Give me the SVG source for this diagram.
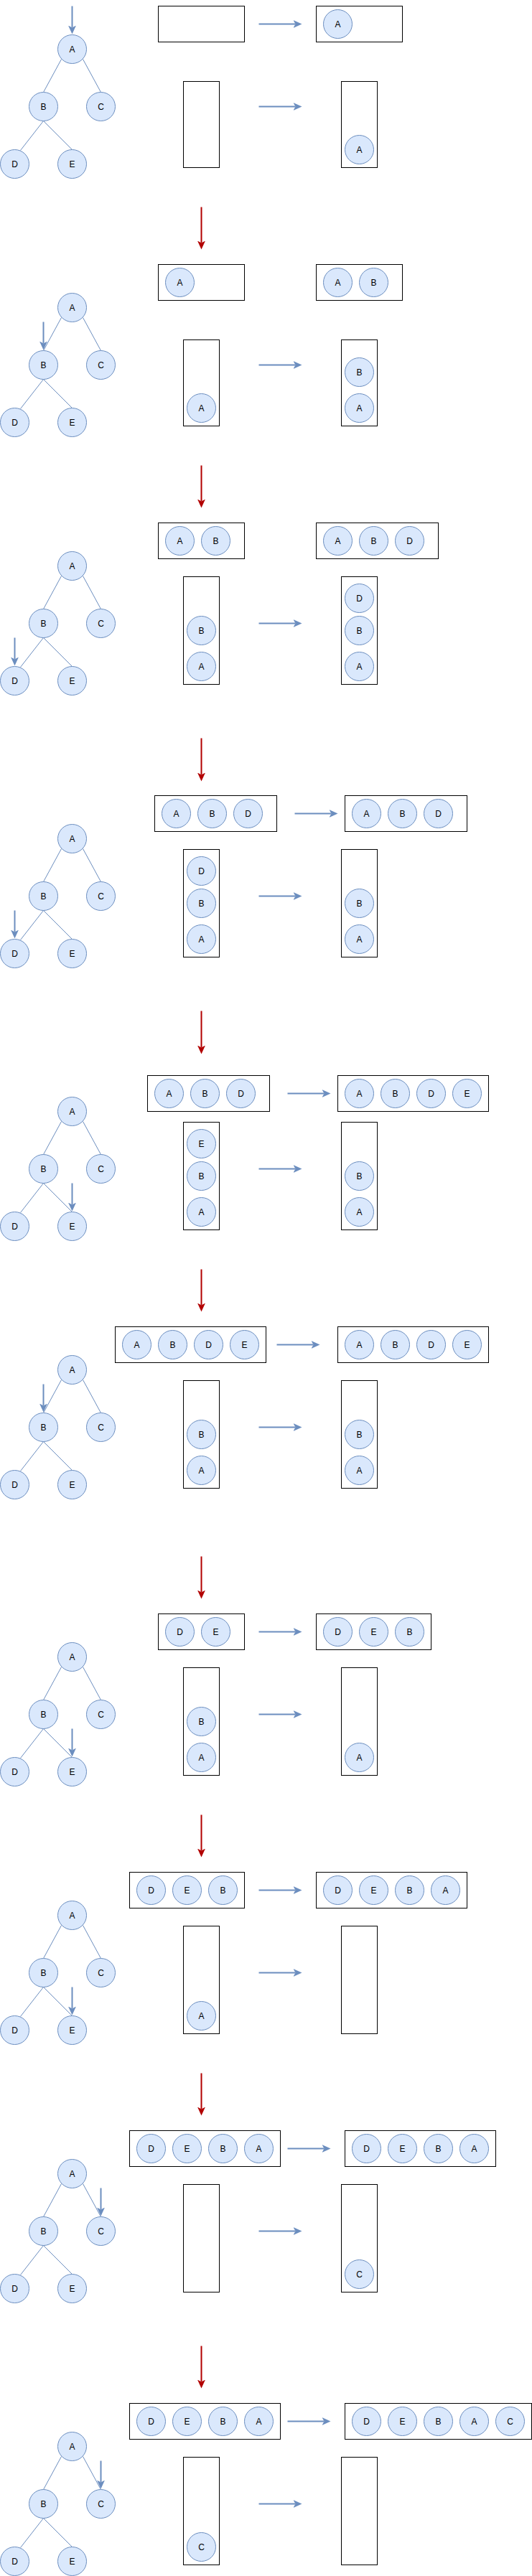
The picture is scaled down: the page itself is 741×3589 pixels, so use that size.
<svg xmlns="http://www.w3.org/2000/svg" width="741" height="3589" viewBox="0 0 741 3589">
<style>
.c{fill:#dae8fc;stroke:#6c8ebf;stroke-width:1}
.t{font-family:"Liberation Sans",Arial,Helvetica,sans-serif;font-size:12px;text-anchor:middle;fill:#000}
.box{fill:#fff;stroke:#000;stroke-width:1}
.e{fill:none;stroke:#6c8ebf;stroke-width:1}
.ab{fill:none;stroke:#6c8ebf;stroke-width:2;marker-end:url(#mb)}
.ar{fill:none;stroke:#b20000;stroke-width:2;marker-end:url(#mr)}
</style>
<defs>
<marker id="mb" markerUnits="userSpaceOnUse" viewBox="0 0 12 11" markerWidth="12" markerHeight="11" refX="3" refY="5.5" orient="auto"><path d="M0,0 L12,5.5 L0,11 L3,5.5 Z" fill="#6c8ebf"/></marker>
<marker id="mr" markerUnits="userSpaceOnUse" viewBox="0 0 12 11" markerWidth="12" markerHeight="11" refX="3" refY="5.5" orient="auto"><path d="M0,0 L12,5.5 L0,11 L3,5.5 Z" fill="#b20000"/></marker>
</defs>
<rect width="741" height="3589" fill="#fff"/>
<g transform="translate(0.5,0.5)">
<g id="connectors">
<!-- S1 -->
<path class="e" d="M85,82 L60,128 M115,82 L140,128 M60,168 L28,209 M60,168 L100,208"/>
<line class="ab" x1="100" y1="8" x2="100" y2="38"/>
<line class="ab" x1="360" y1="33" x2="411" y2="33"/>
<line class="ab" x1="360" y1="148" x2="411" y2="148"/>
<line class="ar" x1="280" y1="288" x2="280" y2="338"/>
<!-- S2 -->
<path class="e" d="M85,442 L60,488 M115,442 L140,488 M60,528 L28,569 M60,528 L100,568"/>
<line class="ab" x1="60" y1="448" x2="60" y2="478"/>
<line class="ab" x1="360" y1="508" x2="411" y2="508"/>
<line class="ar" x1="280" y1="648" x2="280" y2="698"/>
<!-- S3 -->
<path class="e" d="M85,802 L60,848 M115,802 L140,848 M60,888 L28,929 M60,888 L100,928"/>
<line class="ab" x1="20" y1="888" x2="20" y2="918"/>
<line class="ab" x1="360" y1="868" x2="411" y2="868"/>
<line class="ar" x1="280" y1="1028" x2="280" y2="1079"/>
<!-- S4 -->
<path class="e" d="M85,1182 L60,1228 M115,1182 L140,1228 M60,1268 L28,1309 M60,1268 L100,1308"/>
<line class="ab" x1="20" y1="1268" x2="20" y2="1298"/>
<line class="ab" x1="410" y1="1133" x2="461" y2="1133"/>
<line class="ab" x1="360" y1="1248" x2="411" y2="1248"/>
<line class="ar" x1="280" y1="1408" x2="280" y2="1459"/>
<!-- S5 -->
<path class="e" d="M85,1562 L60,1608 M115,1562 L140,1608 M60,1648 L28,1689 M60,1648 L100,1688"/>
<line class="ab" x1="100" y1="1648" x2="100" y2="1678"/>
<line class="ab" x1="400" y1="1523" x2="451" y2="1523"/>
<line class="ab" x1="360" y1="1628" x2="411" y2="1628"/>
<line class="ar" x1="280" y1="1768" x2="280" y2="1818"/>
<!-- S6 -->
<path class="e" d="M85,1922 L60,1968 M115,1922 L140,1968 M60,2008 L28,2049 M60,2008 L100,2048"/>
<line class="ab" x1="60" y1="1928" x2="60" y2="1958"/>
<line class="ab" x1="385" y1="1873" x2="436" y2="1873"/>
<line class="ab" x1="360" y1="1988" x2="411" y2="1988"/>
<line class="ar" x1="280" y1="2168" x2="280" y2="2218"/>
<!-- S7 -->
<path class="e" d="M85,2322 L60,2368 M115,2322 L140,2368 M60,2408 L28,2449 M60,2408 L100,2448"/>
<line class="ab" x1="100" y1="2408" x2="100" y2="2438"/>
<line class="ab" x1="360" y1="2273" x2="411" y2="2273"/>
<line class="ab" x1="360" y1="2388" x2="411" y2="2388"/>
<line class="ar" x1="280" y1="2528" x2="280" y2="2578"/>
<!-- S8 -->
<path class="e" d="M85,2682 L60,2728 M115,2682 L140,2728 M60,2768 L28,2809 M60,2768 L100,2808"/>
<line class="ab" x1="100" y1="2768" x2="100" y2="2798"/>
<line class="ab" x1="360" y1="2633" x2="411" y2="2633"/>
<line class="ab" x1="360" y1="2748" x2="411" y2="2748"/>
<line class="ar" x1="280" y1="2888" x2="280" y2="2938"/>
<!-- S9 -->
<path class="e" d="M85,3042 L60,3088 M115,3042 L140,3088 M60,3128 L28,3169 M60,3128 L100,3168"/>
<line class="ab" x1="140" y1="3048" x2="140" y2="3078"/>
<line class="ab" x1="400" y1="2993" x2="451" y2="2993"/>
<line class="ab" x1="360" y1="3108" x2="411" y2="3108"/>
<line class="ar" x1="280" y1="3268" x2="280" y2="3318"/>
<!-- S10 -->
<path class="e" d="M85,3422 L60,3468 M115,3422 L140,3468 M60,3508 L28,3549 M60,3508 L100,3548"/>
<line class="ab" x1="140" y1="3428" x2="140" y2="3458"/>
<line class="ab" x1="400" y1="3373" x2="451" y2="3373"/>
<line class="ab" x1="360" y1="3488" x2="411" y2="3488"/>
</g>

<!-- ===== Section 1 ===== -->
<g id="s1-tree-A"><circle class="c" cx="100" cy="68" r="20"/><text class="t" x="100" y="72">A</text></g>
<g id="s1-tree-B"><circle class="c" cx="60" cy="148" r="20"/><text class="t" x="60" y="152">B</text></g>
<g id="s1-tree-C"><circle class="c" cx="140" cy="148" r="20"/><text class="t" x="140" y="152">C</text></g>
<g id="s1-tree-D"><circle class="c" cx="20" cy="228" r="20"/><text class="t" x="20" y="232">D</text></g>
<g id="s1-tree-E"><circle class="c" cx="100" cy="228" r="20"/><text class="t" x="100" y="232">E</text></g>
<g id="s1-queue-in"><rect class="box" x="220" y="8" width="120" height="50"/></g>
<g id="s1-queue-out"><rect class="box" x="440" y="8" width="120" height="50"/>
<circle class="c" cx="470" cy="33" r="20"/><text class="t" x="470" y="37">A</text></g>
<g id="s1-stack-in"><rect class="box" x="255" y="113" width="50" height="120"/></g>
<g id="s1-stack-out"><rect class="box" x="475" y="113" width="50" height="120"/>
<circle class="c" cx="500" cy="208" r="20"/><text class="t" x="500" y="212">A</text></g>

<!-- ===== Section 2 ===== -->
<g id="s2-tree-A"><circle class="c" cx="100" cy="428" r="20"/><text class="t" x="100" y="432">A</text></g>
<g id="s2-tree-B"><circle class="c" cx="60" cy="508" r="20"/><text class="t" x="60" y="512">B</text></g>
<g id="s2-tree-C"><circle class="c" cx="140" cy="508" r="20"/><text class="t" x="140" y="512">C</text></g>
<g id="s2-tree-D"><circle class="c" cx="20" cy="588" r="20"/><text class="t" x="20" y="592">D</text></g>
<g id="s2-tree-E"><circle class="c" cx="100" cy="588" r="20"/><text class="t" x="100" y="592">E</text></g>
<g id="s2-queue-in"><rect class="box" x="220" y="368" width="120" height="50"/>
<circle class="c" cx="250" cy="393" r="20"/><text class="t" x="250" y="397">A</text></g>
<g id="s2-queue-out"><rect class="box" x="440" y="368" width="120" height="50"/>
<circle class="c" cx="470" cy="393" r="20"/><text class="t" x="470" y="397">A</text>
<circle class="c" cx="520" cy="393" r="20"/><text class="t" x="520" y="397">B</text></g>
<g id="s2-stack-in"><rect class="box" x="255" y="473" width="50" height="120"/>
<circle class="c" cx="280" cy="568" r="20"/><text class="t" x="280" y="572">A</text></g>
<g id="s2-stack-out"><rect class="box" x="475" y="473" width="50" height="120"/>
<circle class="c" cx="500" cy="518" r="20"/><text class="t" x="500" y="522">B</text>
<circle class="c" cx="500" cy="568" r="20"/><text class="t" x="500" y="572">A</text></g>

<!-- ===== Section 3 ===== -->
<g id="s3-tree-A"><circle class="c" cx="100" cy="788" r="20"/><text class="t" x="100" y="792">A</text></g>
<g id="s3-tree-B"><circle class="c" cx="60" cy="868" r="20"/><text class="t" x="60" y="872">B</text></g>
<g id="s3-tree-C"><circle class="c" cx="140" cy="868" r="20"/><text class="t" x="140" y="872">C</text></g>
<g id="s3-tree-D"><circle class="c" cx="20" cy="948" r="20"/><text class="t" x="20" y="952">D</text></g>
<g id="s3-tree-E"><circle class="c" cx="100" cy="948" r="20"/><text class="t" x="100" y="952">E</text></g>
<g id="s3-queue-in"><rect class="box" x="220" y="728" width="120" height="50"/>
<circle class="c" cx="250" cy="753" r="20"/><text class="t" x="250" y="757">A</text>
<circle class="c" cx="300" cy="753" r="20"/><text class="t" x="300" y="757">B</text></g>
<g id="s3-queue-out"><rect class="box" x="440" y="728" width="170" height="50"/>
<circle class="c" cx="470" cy="753" r="20"/><text class="t" x="470" y="757">A</text>
<circle class="c" cx="520" cy="753" r="20"/><text class="t" x="520" y="757">B</text>
<circle class="c" cx="570" cy="753" r="20"/><text class="t" x="570" y="757">D</text></g>
<g id="s3-stack-in"><rect class="box" x="255" y="803" width="50" height="150"/>
<circle class="c" cx="280" cy="878" r="20"/><text class="t" x="280" y="882">B</text>
<circle class="c" cx="280" cy="928" r="20"/><text class="t" x="280" y="932">A</text></g>
<g id="s3-stack-out"><rect class="box" x="475" y="803" width="50" height="150"/>
<circle class="c" cx="500" cy="833" r="20"/><text class="t" x="500" y="837">D</text>
<circle class="c" cx="500" cy="878" r="20"/><text class="t" x="500" y="882">B</text>
<circle class="c" cx="500" cy="928" r="20"/><text class="t" x="500" y="932">A</text></g>

<!-- ===== Section 4 ===== -->
<g id="s4-tree-A"><circle class="c" cx="100" cy="1168" r="20"/><text class="t" x="100" y="1172">A</text></g>
<g id="s4-tree-B"><circle class="c" cx="60" cy="1248" r="20"/><text class="t" x="60" y="1252">B</text></g>
<g id="s4-tree-C"><circle class="c" cx="140" cy="1248" r="20"/><text class="t" x="140" y="1252">C</text></g>
<g id="s4-tree-D"><circle class="c" cx="20" cy="1328" r="20"/><text class="t" x="20" y="1332">D</text></g>
<g id="s4-tree-E"><circle class="c" cx="100" cy="1328" r="20"/><text class="t" x="100" y="1332">E</text></g>
<g id="s4-queue-in"><rect class="box" x="215" y="1108" width="170" height="50"/>
<circle class="c" cx="245" cy="1133" r="20"/><text class="t" x="245" y="1137">A</text>
<circle class="c" cx="295" cy="1133" r="20"/><text class="t" x="295" y="1137">B</text>
<circle class="c" cx="345" cy="1133" r="20"/><text class="t" x="345" y="1137">D</text></g>
<g id="s4-queue-out"><rect class="box" x="480" y="1108" width="170" height="50"/>
<circle class="c" cx="510" cy="1133" r="20"/><text class="t" x="510" y="1137">A</text>
<circle class="c" cx="560" cy="1133" r="20"/><text class="t" x="560" y="1137">B</text>
<circle class="c" cx="610" cy="1133" r="20"/><text class="t" x="610" y="1137">D</text></g>
<g id="s4-stack-in"><rect class="box" x="255" y="1183" width="50" height="150"/>
<circle class="c" cx="280" cy="1213" r="20"/><text class="t" x="280" y="1217">D</text>
<circle class="c" cx="280" cy="1258" r="20"/><text class="t" x="280" y="1262">B</text>
<circle class="c" cx="280" cy="1308" r="20"/><text class="t" x="280" y="1312">A</text></g>
<g id="s4-stack-out"><rect class="box" x="475" y="1183" width="50" height="150"/>
<circle class="c" cx="500" cy="1258" r="20"/><text class="t" x="500" y="1262">B</text>
<circle class="c" cx="500" cy="1308" r="20"/><text class="t" x="500" y="1312">A</text></g>

<!-- ===== Section 5 ===== -->
<g id="s5-tree-A"><circle class="c" cx="100" cy="1548" r="20"/><text class="t" x="100" y="1552">A</text></g>
<g id="s5-tree-B"><circle class="c" cx="60" cy="1628" r="20"/><text class="t" x="60" y="1632">B</text></g>
<g id="s5-tree-C"><circle class="c" cx="140" cy="1628" r="20"/><text class="t" x="140" y="1632">C</text></g>
<g id="s5-tree-D"><circle class="c" cx="20" cy="1708" r="20"/><text class="t" x="20" y="1712">D</text></g>
<g id="s5-tree-E"><circle class="c" cx="100" cy="1708" r="20"/><text class="t" x="100" y="1712">E</text></g>
<g id="s5-queue-in"><rect class="box" x="205" y="1498" width="170" height="50"/>
<circle class="c" cx="235" cy="1523" r="20"/><text class="t" x="235" y="1527">A</text>
<circle class="c" cx="285" cy="1523" r="20"/><text class="t" x="285" y="1527">B</text>
<circle class="c" cx="335" cy="1523" r="20"/><text class="t" x="335" y="1527">D</text></g>
<g id="s5-queue-out"><rect class="box" x="470" y="1498" width="210" height="50"/>
<circle class="c" cx="500" cy="1523" r="20"/><text class="t" x="500" y="1527">A</text>
<circle class="c" cx="550" cy="1523" r="20"/><text class="t" x="550" y="1527">B</text>
<circle class="c" cx="600" cy="1523" r="20"/><text class="t" x="600" y="1527">D</text>
<circle class="c" cx="650" cy="1523" r="20"/><text class="t" x="650" y="1527">E</text></g>
<g id="s5-stack-in"><rect class="box" x="255" y="1563" width="50" height="150"/>
<circle class="c" cx="280" cy="1593" r="20"/><text class="t" x="280" y="1597">E</text>
<circle class="c" cx="280" cy="1638" r="20"/><text class="t" x="280" y="1642">B</text>
<circle class="c" cx="280" cy="1688" r="20"/><text class="t" x="280" y="1692">A</text></g>
<g id="s5-stack-out"><rect class="box" x="475" y="1563" width="50" height="150"/>
<circle class="c" cx="500" cy="1638" r="20"/><text class="t" x="500" y="1642">B</text>
<circle class="c" cx="500" cy="1688" r="20"/><text class="t" x="500" y="1692">A</text></g>

<!-- ===== Section 6 ===== -->
<g id="s6-tree-A"><circle class="c" cx="100" cy="1908" r="20"/><text class="t" x="100" y="1912">A</text></g>
<g id="s6-tree-B"><circle class="c" cx="60" cy="1988" r="20"/><text class="t" x="60" y="1992">B</text></g>
<g id="s6-tree-C"><circle class="c" cx="140" cy="1988" r="20"/><text class="t" x="140" y="1992">C</text></g>
<g id="s6-tree-D"><circle class="c" cx="20" cy="2068" r="20"/><text class="t" x="20" y="2072">D</text></g>
<g id="s6-tree-E"><circle class="c" cx="100" cy="2068" r="20"/><text class="t" x="100" y="2072">E</text></g>
<g id="s6-queue-in"><rect class="box" x="160" y="1848" width="210" height="50"/>
<circle class="c" cx="190" cy="1873" r="20"/><text class="t" x="190" y="1877">A</text>
<circle class="c" cx="240" cy="1873" r="20"/><text class="t" x="240" y="1877">B</text>
<circle class="c" cx="290" cy="1873" r="20"/><text class="t" x="290" y="1877">D</text>
<circle class="c" cx="340" cy="1873" r="20"/><text class="t" x="340" y="1877">E</text></g>
<g id="s6-queue-out"><rect class="box" x="470" y="1848" width="210" height="50"/>
<circle class="c" cx="500" cy="1873" r="20"/><text class="t" x="500" y="1877">A</text>
<circle class="c" cx="550" cy="1873" r="20"/><text class="t" x="550" y="1877">B</text>
<circle class="c" cx="600" cy="1873" r="20"/><text class="t" x="600" y="1877">D</text>
<circle class="c" cx="650" cy="1873" r="20"/><text class="t" x="650" y="1877">E</text></g>
<g id="s6-stack-in"><rect class="box" x="255" y="1923" width="50" height="150"/>
<circle class="c" cx="280" cy="1998" r="20"/><text class="t" x="280" y="2002">B</text>
<circle class="c" cx="280" cy="2048" r="20"/><text class="t" x="280" y="2052">A</text></g>
<g id="s6-stack-out"><rect class="box" x="475" y="1923" width="50" height="150"/>
<circle class="c" cx="500" cy="1998" r="20"/><text class="t" x="500" y="2002">B</text>
<circle class="c" cx="500" cy="2048" r="20"/><text class="t" x="500" y="2052">A</text></g>

<!-- ===== Section 7 ===== -->
<g id="s7-tree-A"><circle class="c" cx="100" cy="2308" r="20"/><text class="t" x="100" y="2312">A</text></g>
<g id="s7-tree-B"><circle class="c" cx="60" cy="2388" r="20"/><text class="t" x="60" y="2392">B</text></g>
<g id="s7-tree-C"><circle class="c" cx="140" cy="2388" r="20"/><text class="t" x="140" y="2392">C</text></g>
<g id="s7-tree-D"><circle class="c" cx="20" cy="2468" r="20"/><text class="t" x="20" y="2472">D</text></g>
<g id="s7-tree-E"><circle class="c" cx="100" cy="2468" r="20"/><text class="t" x="100" y="2472">E</text></g>
<g id="s7-queue-in"><rect class="box" x="220" y="2248" width="120" height="50"/>
<circle class="c" cx="250" cy="2273" r="20"/><text class="t" x="250" y="2277">D</text>
<circle class="c" cx="300" cy="2273" r="20"/><text class="t" x="300" y="2277">E</text></g>
<g id="s7-queue-out"><rect class="box" x="440" y="2248" width="160" height="50"/>
<circle class="c" cx="470" cy="2273" r="20"/><text class="t" x="470" y="2277">D</text>
<circle class="c" cx="520" cy="2273" r="20"/><text class="t" x="520" y="2277">E</text>
<circle class="c" cx="570" cy="2273" r="20"/><text class="t" x="570" y="2277">B</text></g>
<g id="s7-stack-in"><rect class="box" x="255" y="2323" width="50" height="150"/>
<circle class="c" cx="280" cy="2398" r="20"/><text class="t" x="280" y="2402">B</text>
<circle class="c" cx="280" cy="2448" r="20"/><text class="t" x="280" y="2452">A</text></g>
<g id="s7-stack-out"><rect class="box" x="475" y="2323" width="50" height="150"/>
<circle class="c" cx="500" cy="2448" r="20"/><text class="t" x="500" y="2452">A</text></g>

<!-- ===== Section 8 ===== -->
<g id="s8-tree-A"><circle class="c" cx="100" cy="2668" r="20"/><text class="t" x="100" y="2672">A</text></g>
<g id="s8-tree-B"><circle class="c" cx="60" cy="2748" r="20"/><text class="t" x="60" y="2752">B</text></g>
<g id="s8-tree-C"><circle class="c" cx="140" cy="2748" r="20"/><text class="t" x="140" y="2752">C</text></g>
<g id="s8-tree-D"><circle class="c" cx="20" cy="2828" r="20"/><text class="t" x="20" y="2832">D</text></g>
<g id="s8-tree-E"><circle class="c" cx="100" cy="2828" r="20"/><text class="t" x="100" y="2832">E</text></g>
<g id="s8-queue-in"><rect class="box" x="180" y="2608" width="160" height="50"/>
<circle class="c" cx="210" cy="2633" r="20"/><text class="t" x="210" y="2637">D</text>
<circle class="c" cx="260" cy="2633" r="20"/><text class="t" x="260" y="2637">E</text>
<circle class="c" cx="310" cy="2633" r="20"/><text class="t" x="310" y="2637">B</text></g>
<g id="s8-queue-out"><rect class="box" x="440" y="2608" width="210" height="50"/>
<circle class="c" cx="470" cy="2633" r="20"/><text class="t" x="470" y="2637">D</text>
<circle class="c" cx="520" cy="2633" r="20"/><text class="t" x="520" y="2637">E</text>
<circle class="c" cx="570" cy="2633" r="20"/><text class="t" x="570" y="2637">B</text>
<circle class="c" cx="620" cy="2633" r="20"/><text class="t" x="620" y="2637">A</text></g>
<g id="s8-stack-in"><rect class="box" x="255" y="2683" width="50" height="150"/>
<circle class="c" cx="280" cy="2808" r="20"/><text class="t" x="280" y="2812">A</text></g>
<g id="s8-stack-out"><rect class="box" x="475" y="2683" width="50" height="150"/></g>

<!-- ===== Section 9 ===== -->
<g id="s9-tree-A"><circle class="c" cx="100" cy="3028" r="20"/><text class="t" x="100" y="3032">A</text></g>
<g id="s9-tree-B"><circle class="c" cx="60" cy="3108" r="20"/><text class="t" x="60" y="3112">B</text></g>
<g id="s9-tree-C"><circle class="c" cx="140" cy="3108" r="20"/><text class="t" x="140" y="3112">C</text></g>
<g id="s9-tree-D"><circle class="c" cx="20" cy="3188" r="20"/><text class="t" x="20" y="3192">D</text></g>
<g id="s9-tree-E"><circle class="c" cx="100" cy="3188" r="20"/><text class="t" x="100" y="3192">E</text></g>
<g id="s9-queue-in"><rect class="box" x="180" y="2968" width="210" height="50"/>
<circle class="c" cx="210" cy="2993" r="20"/><text class="t" x="210" y="2997">D</text>
<circle class="c" cx="260" cy="2993" r="20"/><text class="t" x="260" y="2997">E</text>
<circle class="c" cx="310" cy="2993" r="20"/><text class="t" x="310" y="2997">B</text>
<circle class="c" cx="360" cy="2993" r="20"/><text class="t" x="360" y="2997">A</text></g>
<g id="s9-queue-out"><rect class="box" x="480" y="2968" width="210" height="50"/>
<circle class="c" cx="510" cy="2993" r="20"/><text class="t" x="510" y="2997">D</text>
<circle class="c" cx="560" cy="2993" r="20"/><text class="t" x="560" y="2997">E</text>
<circle class="c" cx="610" cy="2993" r="20"/><text class="t" x="610" y="2997">B</text>
<circle class="c" cx="660" cy="2993" r="20"/><text class="t" x="660" y="2997">A</text></g>
<g id="s9-stack-in"><rect class="box" x="255" y="3043" width="50" height="150"/></g>
<g id="s9-stack-out"><rect class="box" x="475" y="3043" width="50" height="150"/>
<circle class="c" cx="500" cy="3168" r="20"/><text class="t" x="500" y="3172">C</text></g>

<!-- ===== Section 10 ===== -->
<g id="s10-tree-A"><circle class="c" cx="100" cy="3408" r="20"/><text class="t" x="100" y="3412">A</text></g>
<g id="s10-tree-B"><circle class="c" cx="60" cy="3488" r="20"/><text class="t" x="60" y="3492">B</text></g>
<g id="s10-tree-C"><circle class="c" cx="140" cy="3488" r="20"/><text class="t" x="140" y="3492">C</text></g>
<g id="s10-tree-D"><circle class="c" cx="20" cy="3568" r="20"/><text class="t" x="20" y="3572">D</text></g>
<g id="s10-tree-E"><circle class="c" cx="100" cy="3568" r="20"/><text class="t" x="100" y="3572">E</text></g>
<g id="s10-queue-in"><rect class="box" x="180" y="3348" width="210" height="50"/>
<circle class="c" cx="210" cy="3373" r="20"/><text class="t" x="210" y="3377">D</text>
<circle class="c" cx="260" cy="3373" r="20"/><text class="t" x="260" y="3377">E</text>
<circle class="c" cx="310" cy="3373" r="20"/><text class="t" x="310" y="3377">B</text>
<circle class="c" cx="360" cy="3373" r="20"/><text class="t" x="360" y="3377">A</text></g>
<g id="s10-queue-out"><rect class="box" x="480" y="3348" width="260" height="50"/>
<circle class="c" cx="510" cy="3373" r="20"/><text class="t" x="510" y="3377">D</text>
<circle class="c" cx="560" cy="3373" r="20"/><text class="t" x="560" y="3377">E</text>
<circle class="c" cx="610" cy="3373" r="20"/><text class="t" x="610" y="3377">B</text>
<circle class="c" cx="660" cy="3373" r="20"/><text class="t" x="660" y="3377">A</text>
<circle class="c" cx="710" cy="3373" r="20"/><text class="t" x="710" y="3377">C</text></g>
<g id="s10-stack-in"><rect class="box" x="255" y="3423" width="50" height="150"/>
<circle class="c" cx="280" cy="3548" r="20"/><text class="t" x="280" y="3552">C</text></g>
<g id="s10-stack-out"><rect class="box" x="475" y="3423" width="50" height="150"/></g>
</g>
</svg>
